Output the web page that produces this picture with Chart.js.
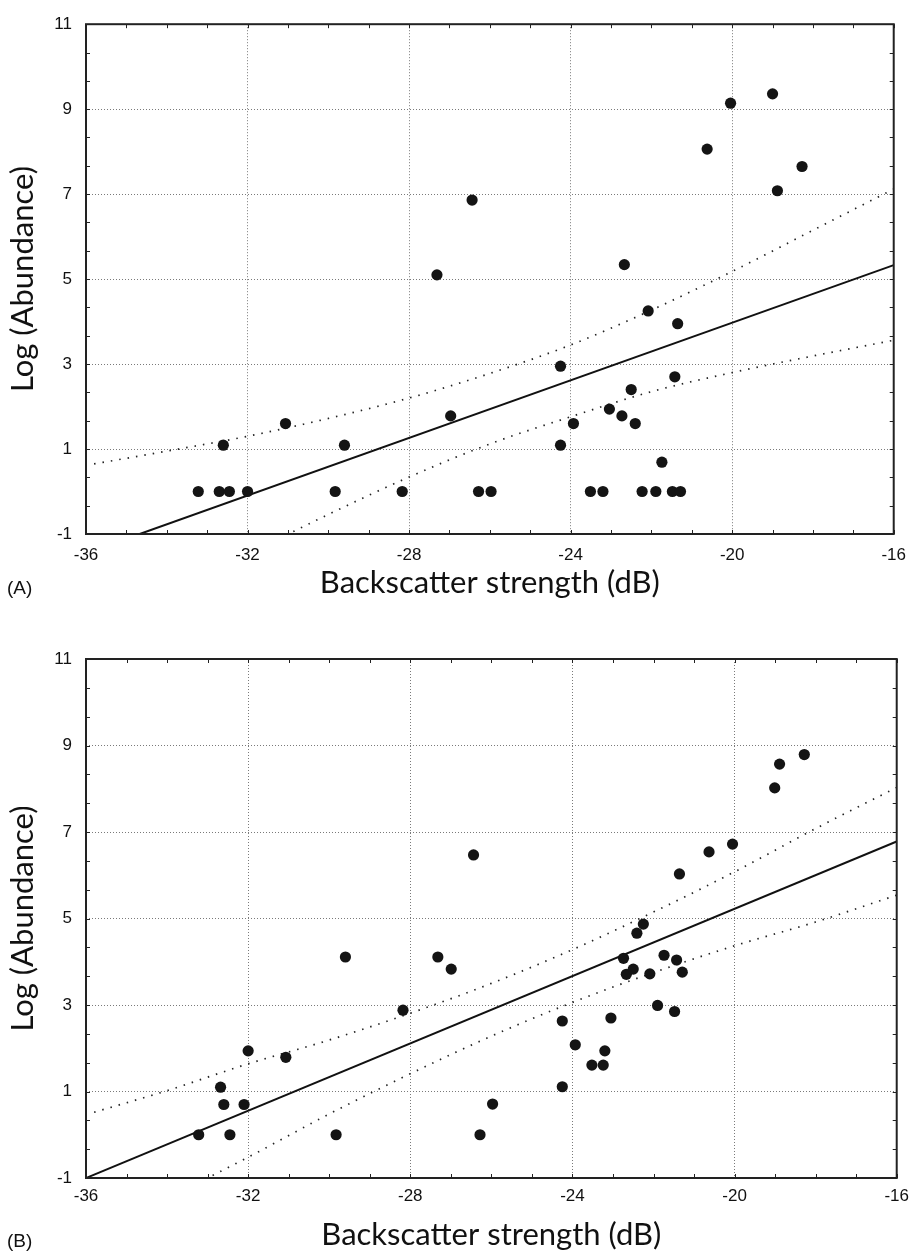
<!DOCTYPE html>
<html>
<head>
<meta charset="utf-8">
<script src="https://cdn.jsdelivr.net/npm/chart.js@4.4.1/dist/chart.umd.min.js"></script>
<style>
  body { margin: 0; background: #fff; }
  .panel { position: relative; width: 917px; }
  .tag { position: absolute; left: 7px; font: 19px "Liberation Sans", Arial, sans-serif; line-height: 22px; color: #111; }
  canvas { display: block; }
</style>
</head>
<body>
<div class="panel"><canvas id="chartA" width="917" height="615"></canvas><div class="tag" style="top:577px">(A)</div></div>
<div class="panel"><canvas id="chartB" width="917" height="641"></canvas><div class="tag" style="top:615px">(B)</div></div>
<script>
// panel A: observed points
let backscatterA = [-33.22, -32.70, -32.60, -32.45, -32.00, -31.06, -29.83, -29.60, -28.17, -27.31,
  -26.97, -26.44, -26.28, -25.97, -24.25, -24.25, -23.93, -23.51, -23.20, -23.04,
  -22.73, -22.67, -22.50, -22.40, -22.23, -22.08, -21.89, -21.74, -21.48, -21.42,
  -21.35, -21.28, -20.62, -20.04, -19.00, -18.88, -18.27];
let abundanceA = [0, 0, 1.09, 0, 0, 1.60, 0, 1.09, 0, 5.10,
  1.78, 6.86, 0, 0, 2.95, 1.09, 1.60, 0, 0, 1.94,
  1.78, 5.34, 2.40, 1.60, 0, 4.25, 0, 0.69, 0, 2.70,
  3.95, 0, 8.06, 9.14, 9.36, 7.08, 7.65];

// panel A: fitted line and confidence limits
let fitXA = [-34.67, -16];
let fitYA = [-1, 5.33];
let upperXA = [-35.8, -34, -32, -30, -28, -26, -24, -22, -20, -18, -16];
let upperYA = [0.65, 0.95, 1.30, 1.72, 2.20, 2.78, 3.45, 4.27, 5.18, 6.15, 7.12];
let lowerXA = [-32, -30, -28, -26, -24, -22, -20, -18, -16];
let lowerYA = [-1.48, -0.54, 0.34, 1.12, 1.76, 2.35, 2.80, 3.19, 3.56];

// panel B: observed points
let backscatterB = [-33.22, -32.68, -32.60, -32.45, -32.10, -32.00, -31.07, -29.83, -29.60, -28.18,
  -27.32, -26.99, -26.44, -26.28, -25.97, -24.25, -24.25, -23.93, -23.52, -23.24,
  -23.20, -23.05, -22.74, -22.67, -22.50, -22.41, -22.25, -22.09, -21.90, -21.74,
  -21.48, -21.43, -21.36, -21.29, -20.63, -20.05, -19.01, -18.89, -18.28];
let abundanceB = [0, 1.10, 0.70, 0, 0.70, 1.94, 1.79, 0, 4.11, 2.88,
  4.11, 3.83, 6.47, 0, 0.71, 2.63, 1.11, 2.08, 1.61, 1.61,
  1.94, 2.70, 4.08, 3.71, 3.83, 4.66, 4.87, 3.72, 2.99, 4.15,
  2.85, 4.04, 6.03, 3.76, 6.54, 6.72, 8.02, 8.57, 8.79];

// panel B: fitted line and confidence limits
let fitXB = [-36, -16];
let fitYB = [-1, 6.78];
let upperXB = [-35.8, -34, -32, -30, -28, -26, -24, -22, -20, -18, -16];
let upperYB = [0.52, 1.02, 1.64, 2.19, 2.81, 3.50, 4.28, 5.15, 6.08, 7.08, 8.03];
let lowerXB = [-34, -32, -30, -28, -26, -24, -22, -20, -18, -16];
let lowerYB = [-1.47, -0.52, 0.48, 1.41, 2.28, 3.06, 3.75, 4.37, 4.92, 5.54];

let xTicks = [-36, -32, -28, -24, -20, -16];
let yTicks = [-1, 1, 3, 5, 7, 9, 11];

function pts(xs, ys) {
  return xs.map((x, i) => ({x: x, y: ys[i]}));
}

// frame plus small inward ticks on all four sides
const frameTicks = {
  id: 'frameTicks',
  afterDraw(chart) {
    const {ctx, chartArea: a, scales: {x, y}} = chart;
    ctx.save();
    ctx.strokeStyle = '#222';
    ctx.lineWidth = 1;
    ctx.beginPath();
    for (let v = -36; v <= -16; v++) {
      const px = Math.round(x.getPixelForValue(v)) + 0.5;
      ctx.moveTo(px, a.top); ctx.lineTo(px, a.top + 4);
      ctx.moveTo(px, a.bottom); ctx.lineTo(px, a.bottom - 4);
    }
    for (let i = 0; i <= 18; i++) {
      const py = Math.round(y.getPixelForValue(-1 + i * 2 / 3)) + 0.5;
      ctx.moveTo(a.left, py); ctx.lineTo(a.left + 4, py);
      ctx.moveTo(a.right, py); ctx.lineTo(a.right - 4, py);
    }
    ctx.stroke();
    ctx.lineWidth = 2;
    ctx.strokeRect(a.left, a.top, a.right - a.left, a.bottom - a.top);
    ctx.restore();
  }
};

const gridColor = (c) => {
  const v = c.tick ? c.tick.value : null;
  return (v === -36 || v === -16 || v === -1 || v === 11) ? 'rgba(0,0,0,0)' : '#7a7a7a';
};

function makeChart(id, pad, xs, ys, fit, upper, lower) {
  const ctx = document.getElementById(id).getContext('2d');
  return new Chart(ctx, {
    type: 'scatter',
    data: {
      datasets: [{
        data: pts(xs, ys),
        pointRadius: 5.6,
        pointHoverRadius: 5.6,
        backgroundColor: '#141414',
        borderWidth: 0,
        order: 0
      }, {
        data: pts(fit[0], fit[1]),
        showLine: true,
        borderColor: '#111',
        borderWidth: 2,
        pointRadius: 0,
        order: 1
      }, {
        data: pts(upper[0], upper[1]),
        showLine: true,
        cubicInterpolationMode: 'monotone',
        borderColor: '#222',
        borderWidth: 1.7,
        borderDash: [1.5, 7],
        pointRadius: 0,
        order: 2
      }, {
        data: pts(lower[0], lower[1]),
        showLine: true,
        cubicInterpolationMode: 'monotone',
        borderColor: '#222',
        borderWidth: 1.7,
        borderDash: [1.5, 7],
        pointRadius: 0,
        order: 2
      }]
    },
    options: {
      responsive: false,
      animation: false,
      devicePixelRatio: 1,
      layout: { padding: { top: pad.top, right: 16, left: 0, bottom: 0 } },
      plugins: { legend: { display: false }, tooltip: { enabled: false } },
      scales: {
        x: {
          type: 'linear',
          min: -36, max: -16,
          afterBuildTicks: (s) => { s.ticks = xTicks.map(v => ({value: v})); },
          afterFit: (s) => { s.height = pad.xh; },
          grid: { color: gridColor, lineWidth: 1, drawTicks: false },
          border: { display: false, dash: [1, 2] },
          ticks: { padding: pad.tick, color: '#111', font: { family: '"Liberation Sans", Arial, sans-serif', size: 17 } },
          title: {
            display: true,
            text: 'Backscatter strength (dB)',
            color: '#111',
            font: { family: 'Lato, "Open Sans", sans-serif', size: 31 },
            padding: { top: 0, bottom: pad.title }
          }
        },
        y: {
          type: 'linear',
          min: -1, max: 11,
          afterBuildTicks: (s) => { s.ticks = yTicks.map(v => ({value: v})); },
          afterFit: (s) => { s.width = 86; },
          grid: { color: gridColor, lineWidth: 1, drawTicks: false },
          border: { display: false, dash: [1, 2] },
          ticks: { padding: 14, color: '#111', font: { family: '"Liberation Sans", Arial, sans-serif', size: 17 } },
          title: {
            display: true,
            text: 'Log (Abundance)',
            color: '#111',
            font: { family: 'Lato, "Open Sans", sans-serif', size: 31 },
            padding: { top: 4, bottom: 0 }
          }
        }
      }
    },
    plugins: [frameTicks]
  });
}

makeChart('chartA', {top: 15, xh: 81, tick: 11, title: 13}, backscatterA, abundanceA,
  [fitXA, fitYA], [upperXA, upperYA], [lowerXA, lowerYA]);
makeChart('chartB', {top: 44, xh: 78, tick: 8, title: 2}, backscatterB, abundanceB,
  [fitXB, fitYB], [upperXB, upperYB], [lowerXB, lowerYB]);
</script>
</body>
</html>
